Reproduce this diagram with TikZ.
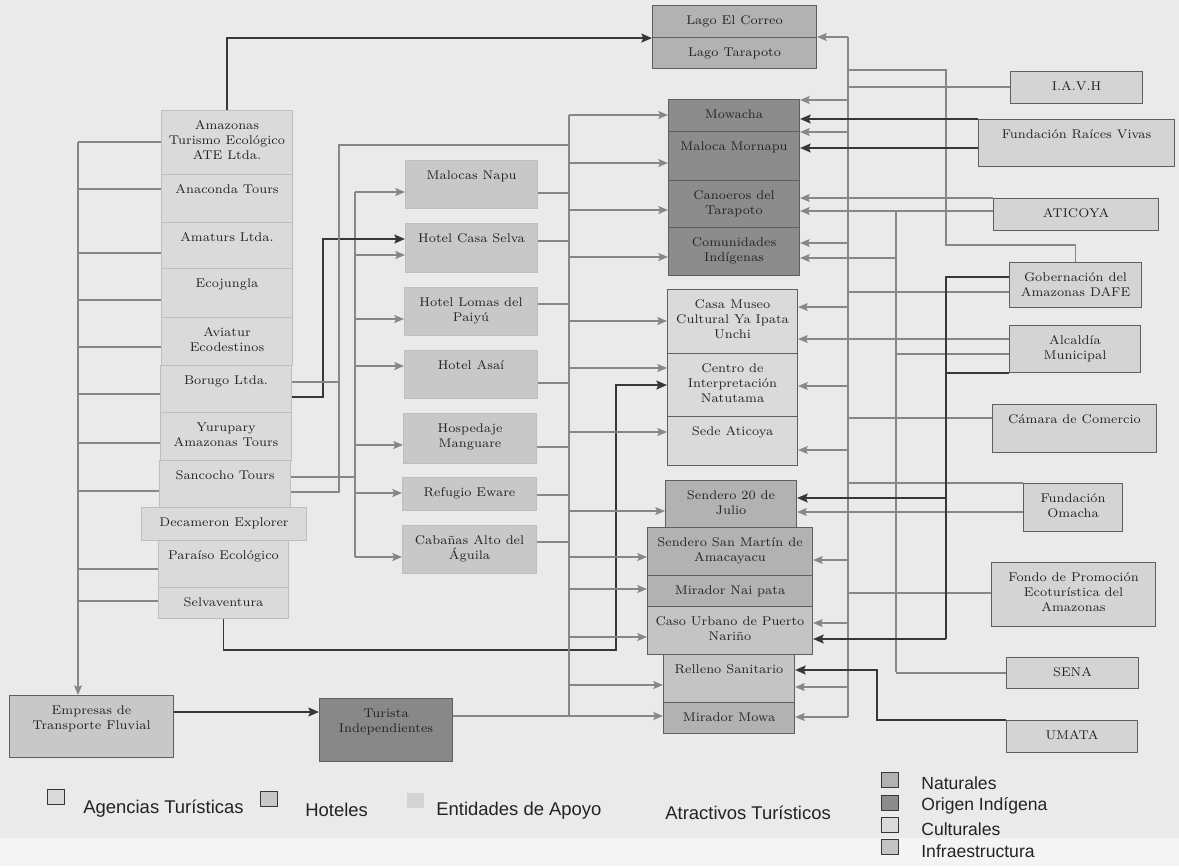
\documentclass[tikz,border=0pt]{standalone}
\usepackage{fontspec}
\usepackage{tikz}
\usetikzlibrary{arrows.meta}
\usetikzlibrary{positioning}
\usetikzlibrary{calc}

\newfontfamily\legendfont{Liberation Sans}

\definecolor{paper}{RGB}{234,234,234}
\definecolor{paperlight}{RGB}{244,244,244}
\definecolor{agencycol}{RGB}{218,218,218}
\definecolor{hotelcol}{RGB}{200,200,200}
\definecolor{naturalcol}{RGB}{178,178,178}
\definecolor{indigcol}{RGB}{140,140,140}
\definecolor{culturalcol}{RGB}{218,218,218}
\definecolor{infracol}{RGB}{196,196,196}
\definecolor{entitycol}{RGB}{212,212,212}
\definecolor{fluvialcol}{RGB}{200,200,200}
\definecolor{turistacol}{RGB}{136,136,136}
\definecolor{rimlight}{RGB}{190,190,190}
\definecolor{rimdark}{RGB}{95,95,95}
\definecolor{linkcol}{RGB}{135,135,135}
\definecolor{darkcol}{RGB}{55,55,55}
\definecolor{inkcol}{RGB}{35,35,35}

% one pixel of the layout
\def\pxu{0.02cm}

\begin{document}
\begin{tikzpicture}[x=0.02cm, y=-0.02cm,
    box/.style 2 args={anchor=north west, inner sep=0pt, line width=0.6pt,
      minimum width=#1*\pxu, minimum height=#2*\pxu},
    celltext/.style={anchor=north, align=center, inner sep=0pt, yshift=-5.8pt,
      font=\fontsize{7.2}{8.6}\selectfont, text=inkcol},
    txt/.style={label={[celltext]north:{#1}}},
    agency/.style={draw=rimlight, fill=agencycol},
    hotel/.style={draw=rimlight, fill=hotelcol},
    natural/.style={draw=rimdark, fill=naturalcol},
    indig/.style={draw=rimdark, fill=indigcol},
    cultural/.style={draw=rimdark, fill=culturalcol},
    infra/.style={draw=rimdark, fill=infracol},
    entity/.style={draw=rimdark, fill=entitycol},
    link/.style={draw=linkcol, line width=0.8pt},
    arr/.style={link, -{Stealth[length=5.5pt, width=4.5pt, inset=1pt]}},
    darkline/.style={draw=darkcol, line width=1.1pt},
    darkarr/.style={darkline, -{Stealth[length=6pt, width=5pt, inset=1pt]}},
    legsq/.style={draw=darkcol, line width=0.9pt, inner sep=0pt,
      minimum width=17*\pxu, minimum height=15*\pxu},
    legtext/.style={anchor=west, inner sep=0pt, text=inkcol,
      font=\legendfont\fontsize{10.5}{12}\selectfont}]

  % Paper
  \fill[paper] (0,0) rectangle (1179,866);
  \fill[paperlight] (0,838) rectangle (1179,866);
  \useasboundingbox (0,0) rectangle (1179,866);

  % Agencias turisticas
  \node[agency, box={131}{64}, txt={Amazonas\\Turismo Ecológico\\ATE Ltda.}] (ate) at (161,110) {};
  \node[agency, box={131}{48}, txt={Anaconda Tours}] (anaconda) at (161,174) {};
  \node[agency, box={131}{46}, txt={Amaturs Ltda.}] (amaturs) at (161,222) {};
  \node[agency, box={131}{49}, txt={Ecojungla}] (ecojungla) at (161,268) {};
  \node[agency, box={131}{48}, txt={Aviatur\\Ecodestinos}] (aviatur) at (161,317) {};
  \node[agency, box={131}{47}, txt={Borugo Ltda.}] (borugo) at (160,365) {};
  \node[agency, box={131}{48}, txt={Yurupary\\Amazonas Tours}] (yurupary) at (160,412) {};
  \node[agency, box={131}{47}, txt={Sancocho Tours}] (sancocho) at (159,460) {};
  \node[agency, box={165}{33}, txt={Decameron Explorer}] (decameron) at (141,507) {};
  \node[agency, box={130}{47}, txt={Paraíso Ecológico}] (paraiso) at (158,540) {};
  \node[agency, box={130}{31}, txt={Selvaventura}] (selva) at (158,587) {};

  % Hoteles
  \node[hotel, box={132}{48}, txt={Malocas Napu}] (napu) at (405,160) {};
  \node[hotel, box={132}{49}, txt={Hotel Casa Selva}] (casaselva) at (405,223) {};
  \node[hotel, box={133}{48}, txt={Hotel Lomas del\\Paiyú}] (lomas) at (404,287) {};
  \node[hotel, box={133}{48}, txt={Hotel Asaí}] (asai) at (404,350) {};
  \node[hotel, box={133}{50}, txt={Hospedaje\\Manguare}] (manguare) at (403,413) {};
  \node[hotel, box={134}{33}, txt={Refugio Eware}] (eware) at (402,477) {};
  \node[hotel, box={134}{48}, txt={Cabañas Alto del\\Águila}] (aguila) at (402,525) {};

  % Atractivos turisticos
  \node[natural, box={164}{32}, txt={Lago El Correo}] (correo) at (652,5) {};
  \node[natural, box={164}{31}, txt={Lago Tarapoto}] (tarapoto) at (652,37) {};
  \node[indig, box={131}{32}, txt={Mowacha}] (mowacha) at (668,99) {};
  \node[indig, box={131}{49}, txt={Maloca Mornapu}] (maloca) at (668,131) {};
  \node[indig, box={131}{47}, txt={Canoeros del\\Tarapoto}] (canoeros) at (668,180) {};
  \node[indig, box={131}{48}, txt={Comunidades\\Indígenas}] (comunidades) at (668,227) {};
  \node[cultural, box={130}{64}, txt={Casa Museo\\Cultural Ya Ipata\\Unchi}] (casamuseo) at (667,289) {};
  \node[cultural, box={130}{63}, txt={Centro de\\Interpretación\\Natutama}] (natutama) at (667,353) {};
  \node[cultural, box={130}{49}, txt={Sede Aticoya}] (sedeaticoya) at (667,416) {};
  \node[natural, box={131}{47}, txt={Sendero 20 de\\Julio}] (sendero20) at (665,480) {};
  \node[natural, box={165}{48}, txt={Sendero San Martín de\\Amacayacu}] (sanmartin) at (647,527) {};
  \node[natural, box={165}{31}, txt={Mirador Nai pata}] (naipata) at (647,575) {};
  \node[infra, box={165}{48}, txt={Caso Urbano de Puerto\\Nariño}] (urbano) at (647,606) {};
  \node[infra, box={131}{48}, txt={Relleno Sanitario}] (relleno) at (663,654) {};
  \node[natural, box={131}{31}, txt={Mirador Mowa}] (mowa) at (663,702) {};

  % Entidades de apoyo
  \node[entity, box={132}{32}, txt={I.A.V.H}] (iavh) at (1010,71) {};
  \node[entity, box={196}{47}, txt={Fundación Raíces Vivas}] (raices) at (978,119) {};
  \node[entity, box={165}{32}, txt={ATICOYA}] (aticoya) at (993,198) {};
  \node[entity, box={132}{45}, txt={Gobernación del\\Amazonas DAFE}] (gobernacion) at (1009,262) {};
  \node[entity, box={131}{47}, txt={Alcaldía\\Municipal}] (alcaldia) at (1009,325) {};
  \node[entity, box={164}{48}, txt={Cámara de Comercio}] (camara) at (992,404) {};
  \node[entity, box={99}{48}, txt={Fundación\\Omacha}] (omacha) at (1023,483) {};
  \node[entity, box={164}{64}, txt={Fondo de Promoción\\Ecoturística del\\Amazonas}] (fondo) at (991,562) {};
  \node[entity, box={132}{31}, txt={SENA}] (sena) at (1006,657) {};
  \node[entity, box={131}{32}, txt={UMATA}] (umata) at (1006,720) {};

  % Transporte y turistas
  \node[draw=rimdark, fill=fluvialcol, box={164}{62}, txt={Empresas de\\Transporte Fluvial}] (fluvial) at (9,695) {};
  \node[draw=rimdark, fill=turistacol, box={133}{63}, txt={Turista\\Independientes}] (turista) at (319,698) {};

  % Bus lines
  \coordinate (busL) at (78,142);
  \coordinate (busH) at (355,192);
  \coordinate (busA) at (569,115);
  \coordinate (busR) at (848,37);
  \coordinate (busS) at (896,211);
  \coordinate (busD) at (946,277);

  % Agencies down to the river transport
  \draw[arr] (busL) -- (busL |- fluvial.north);
  \foreach \yy/\n in {142/ate, 189/anaconda, 253/amaturs, 300/ecojungla, 347/aviatur,
                      394/borugo, 443/yurupary, 491/sancocho, 569/paraiso, 601/selva}
    \draw[link] (busL |- 0,\yy) -- (\n.west |- 0,\yy);
  \draw[darkarr] (fluvial.east |- 0,712) -- (turista.west |- 0,712);
  \draw[link] (turista.east |- 0,716) -- (busA |- 0,716);

  % Agencies to hotels
  \draw[link] (sancocho.east |- 0,477) -| (busH);
  \draw[link] (busH) -- (busH |- 0,557);
  \foreach \yy/\n in {192/napu, 255/casaselva, 319/lomas, 366/asai, 445/manguare, 493/eware, 557/aguila}
    \draw[arr] (busH |- 0,\yy) -- (\n.west |- 0,\yy);
  \draw[darkarr] (borugo.east |- 0,397) -| (323,239) -- (casaselva.west |- 0,239);
  \draw[link] (borugo.east |- 0,382) -| (339,145) -- (busA |- 0,145);
  \draw[link] (sancocho.east |- 0,492) -| (339,382);

  % Agencies straight to attractions
  \draw[darkarr] (ate.north) |- (correo.south west);
  \draw[darkarr] (selva.south) |- (616,650) |- (natutama.west);

  % Hotels to attractions
  \draw[link] (busA) -- (busA |- 0,716);
  \foreach \yy/\n in {193/napu, 241/casaselva, 304/lomas, 383/asai, 447/manguare, 495/eware, 542/aguila}
    \draw[link] (\n.east |- 0,\yy) -- (busA |- 0,\yy);
  \foreach \yy/\n in {115/mowacha, 163/maloca, 210/canoeros, 257/comunidades, 321/casamuseo,
                      368/natutama, 432/sedeaticoya, 511/sendero20, 557/sanmartin, 589/naipata,
                      637/urbano, 685/relleno, 716/mowa}
    \draw[arr] (busA |- 0,\yy) -- (\n.west |- 0,\yy);

  % Support entities to attractions
  \draw[link] (busR) -- (busR |- 0,717);
  \draw[arr] (busR) -- (tarapoto.north east);
  \foreach \yy/\n in {100/mowacha, 132/maloca, 243/comunidades, 307/casamuseo, 386/natutama,
                      450/sedeaticoya, 560/sanmartin, 623/urbano, 687/relleno, 717/mowa}
    \draw[arr] (busR |- 0,\yy) -- (\n.east |- 0,\yy);
  \foreach \yy/\n in {87/iavh, 292/gobernacion, 418/camara, 593/fondo}
    \draw[link] (\n.west |- 0,\yy) -- (busR |- 0,\yy);
  \draw[link] (omacha.north west) -- (busR |- omacha.north west);
  \draw[link] (gobernacion.north) |- (946,245) |- (busR |- 0,70);

  \draw[arr] (aticoya.north west) -- (canoeros.east |- aticoya.north west);
  \draw[arr] (aticoya.west |- 0,211) -- (canoeros.east |- 0,211);
  \draw[link] (busS) -- (busS |- 0,672);
  \draw[arr] (busS |- 0,258) -- (comunidades.east |- 0,258);
  \draw[link] (alcaldia.west |- 0,354) -- (busS |- 0,354);
  \draw[link] (sena.west) -- (busS |- sena.west);
  \draw[arr] (omacha.west |- 0,512) -- (sendero20.east |- 0,512);
  \draw[arr] (alcaldia.west |- 0,339) -- (casamuseo.east |- 0,339);

  \draw[darkline] (gobernacion.west |- 0,277) -- (busD) -- (busD |- 0,639);
  \draw[darkline] (alcaldia.south west) -- (busD |- alcaldia.south west);
  \draw[darkarr] (busD |- 0,498) -- (sendero20.east |- 0,498);
  \draw[darkarr] (busD |- 0,639) -- (urbano.east |- 0,639);
  \draw[darkarr] (raices.north west) -- (mowacha.east |- raices.north west);
  \draw[darkarr] (raices.west |- 0,148) -- (maloca.east |- 0,148);
  \draw[darkarr] (umata.north west) -| (877,670) -- (relleno.east |- 0,670);

  % Legend
  \node[legsq, fill=agencycol] (kagency) at (56,797) {};
  \node[legtext] (lagency) at (83,809) {Agencias Turísticas};
  \node[legsq, fill=hotelcol] (khotel) at (269,799) {};
  \node[legtext] (lhotel) at (305,810) {Hoteles};
  \node[legsq, draw=none, fill=entitycol] (kentity) at (415,800) {};
  \node[legtext] (lentity) at (436,811) {Entidades de Apoyo};
  \node[legtext] (lattract) at (665,813) {Atractivos Turísticos};

  \node[legsq, fill=naturalcol] (knatural) at (890,780) {};
  \node[legsq, fill=indigcol] (kindig) at (890,803) {};
  \node[legsq, fill=culturalcol] (kcultural) at (890,825) {};
  \node[legsq, fill=infracol] (kinfra) at (890,847) {};
  \node[legtext, font=\legendfont\fontsize{10}{12}\selectfont] (lnatural) at (921,783) {Naturales};
  \node[legtext, font=\legendfont\fontsize{10}{12}\selectfont] (lindig) at (921,806) {Origen Indígena};
  \node[legtext, font=\legendfont\fontsize{10}{12}\selectfont] (lcultural) at (921,829) {Culturales};
  \node[legtext, font=\legendfont\fontsize{10}{12}\selectfont] (linfra) at (921,851) {Infraestructura};

\end{tikzpicture}
\end{document}
